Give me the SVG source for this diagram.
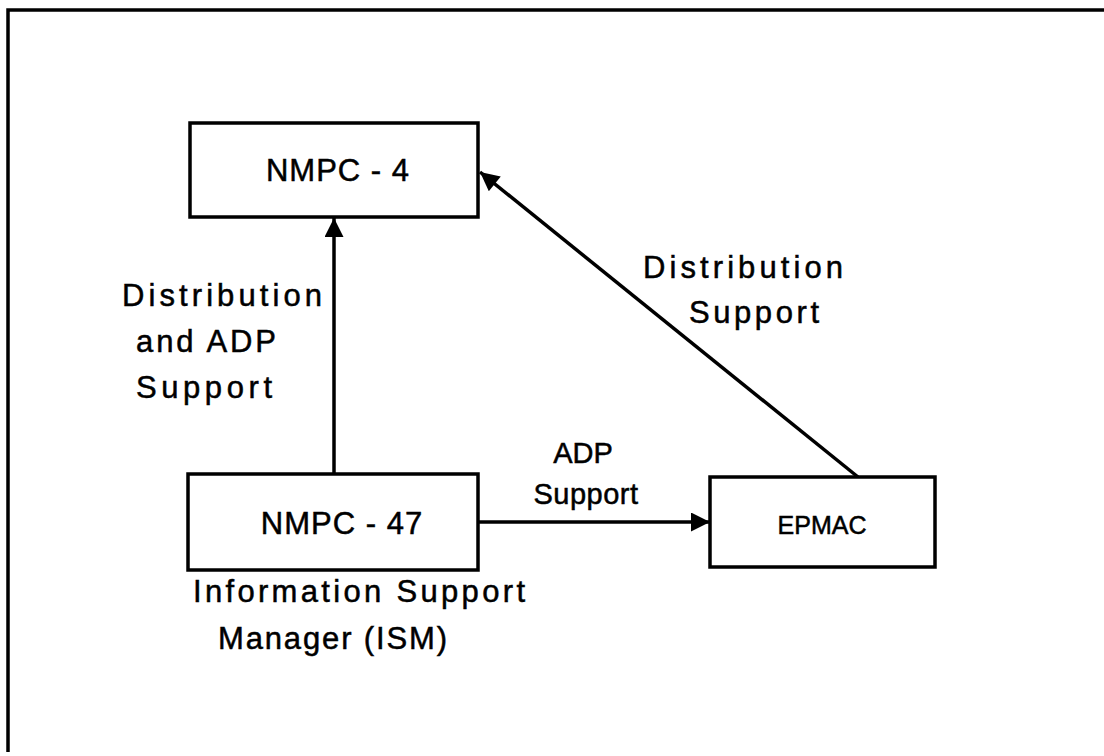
<svg xmlns="http://www.w3.org/2000/svg" width="1104" height="756" viewBox="0 0 1104 756">
<style>
  .box { fill: #fff; stroke: #000; stroke-width: 3.5; }
  .edge { stroke: #000; stroke-width: 3.5; fill: none; }
  text { font-family: "Liberation Sans", Arial, sans-serif; fill: #000; stroke: #000; stroke-width: 0.5; }
  .t { font-size: 31px; }
  .m { font-size: 29px; }
  .s { font-size: 25px; }
</style>
<defs>
  <marker id="ah" viewBox="0 0 10 10" refX="10" refY="5" markerWidth="24" markerHeight="19" markerUnits="userSpaceOnUse" orient="auto">
    <path d="M0,0 L10,5 L0,10 Z" fill="#000"/>
  </marker>
</defs>
<rect width="1104" height="756" fill="#fff"/>
<g id="frame">
  <path d="M8,752 L8,10 L1104,10" class="edge" stroke-width="3"/>
</g>
<g id="connectors">
  <line x1="334" y1="474" x2="334" y2="218" class="edge" marker-end="url(#ah)"/>
  <line x1="858" y1="477" x2="480" y2="172" class="edge" marker-end="url(#ah)"/>
  <line x1="478" y1="522" x2="710" y2="522" class="edge" marker-end="url(#ah)"/>
</g>
<g id="labels">
  <text class="t" x="122" y="306" textLength="200" lengthAdjust="spacing">Distribution</text>
  <text class="t" x="136" y="352" textLength="140" lengthAdjust="spacing">and ADP</text>
  <text class="t" x="136" y="398" textLength="136" lengthAdjust="spacing">Support</text>
  <text class="t" x="643" y="278" textLength="200" lengthAdjust="spacing">Distribution</text>
  <text class="t" x="689" y="323" textLength="130" lengthAdjust="spacing">Support</text>
  <text class="m" x="583" y="463" text-anchor="middle">ADP</text>
  <text class="m" x="586" y="504" text-anchor="middle" letter-spacing="0.5">Support</text>
</g>
<g id="nmpc4">
  <rect class="box" x="190" y="123" width="288" height="94"/>
  <text class="t" x="338" y="181" text-anchor="middle" letter-spacing="1">NMPC - 4</text>
</g>
<g id="nmpc47">
  <rect class="box" x="188" y="474" width="290" height="96"/>
  <text class="t" x="342" y="534" text-anchor="middle" letter-spacing="1">NMPC - 47</text>
  <text class="t" x="193" y="602" textLength="332" lengthAdjust="spacing">Information  Support</text>
  <text class="t" x="218" y="649" textLength="229" lengthAdjust="spacing">Manager  (ISM)</text>
</g>
<g id="epmac">
  <rect class="box" x="710" y="477" width="225" height="90"/>
  <text class="s" x="822" y="534" text-anchor="middle">EPMAC</text>
</g>
</svg>
